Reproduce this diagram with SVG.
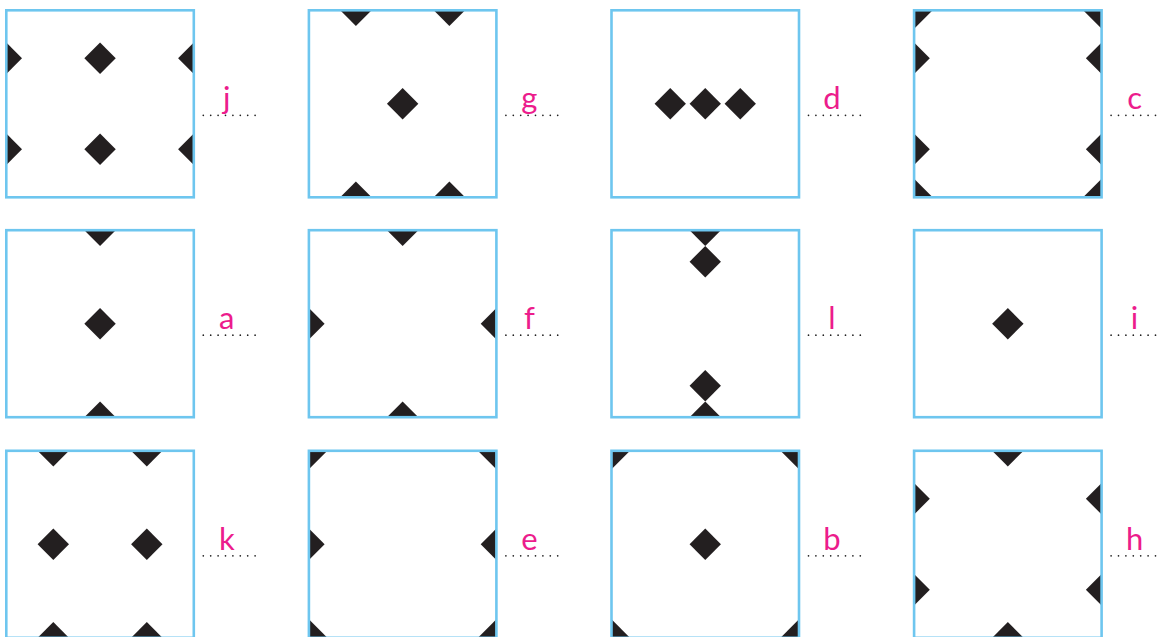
<svg xmlns="http://www.w3.org/2000/svg" xmlns:xlink="http://www.w3.org/1999/xlink" width="1160" height="637" viewBox="0 0 1160 637">
<style>
.frame{fill:none;stroke:#6ec6ef;stroke-width:2.6}
.dm{fill:#231f20}
.lbl{font-family:Lato,"Open Sans","Liberation Sans",sans-serif;font-weight:400;font-size:31px;fill:#ec1c8c;text-anchor:middle}
.dots{stroke:#222;stroke-width:1.7;stroke-linecap:round;stroke-dasharray:0 7.4;fill:none}
</style>
<defs>
<path id="dm" class="dm" d="M0,-15.7 L15.7,0 L0,15.7 L-15.7,0Z"/>
<path id="cn" class="dm" d="M0,-18.5 L18.5,0 L0,18.5 L-18.5,0Z"/>
<clipPath id="box"><rect x="0" y="0" width="187.5" height="187"/></clipPath>
</defs>

<g id="box-j" transform="translate(6.3,10.3)">
<g clip-path="url(#box)">
<use xlink:href="#dm" x="0" y="48"/><use xlink:href="#dm" x="0" y="139"/>
<use xlink:href="#dm" x="187.5" y="48"/><use xlink:href="#dm" x="187.5" y="139"/>
<use xlink:href="#dm" x="93.75" y="48"/><use xlink:href="#dm" x="93.75" y="139"/>
</g>
<rect class="frame" x="0" y="0" width="187.5" height="187"/>
<line class="dots" x1="197" y1="105" x2="254" y2="105"/>
<text class="lbl" x="220.5" y="99">j</text>
</g>

<g id="box-g" transform="translate(308.9,10.3)">
<g clip-path="url(#box)">
<use xlink:href="#dm" x="47" y="0"/><use xlink:href="#dm" x="140.5" y="0"/>
<use xlink:href="#dm" x="47" y="187"/><use xlink:href="#dm" x="140.5" y="187"/>
<use xlink:href="#dm" x="93.75" y="93.5"/>
</g>
<rect class="frame" x="0" y="0" width="187.5" height="187"/>
<line class="dots" x1="197" y1="105" x2="254" y2="105"/>
<text class="lbl" x="220.5" y="99">g</text>
</g>

<g id="box-d" transform="translate(611.5,10.3)">
<g clip-path="url(#box)">
<use xlink:href="#dm" x="58.75" y="93.5"/><use xlink:href="#dm" x="93.75" y="93.5"/><use xlink:href="#dm" x="128.75" y="93.5"/>
</g>
<rect class="frame" x="0" y="0" width="187.5" height="187"/>
<line class="dots" x1="197" y1="105" x2="254" y2="105"/>
<text class="lbl" x="220.5" y="99">d</text>
</g>

<g id="box-c" transform="translate(914.1,10.3)">
<g clip-path="url(#box)">
<use xlink:href="#cn" x="0" y="0"/><use xlink:href="#cn" x="187.5" y="0"/>
<use xlink:href="#cn" x="0" y="187"/><use xlink:href="#cn" x="187.5" y="187"/>
<use xlink:href="#dm" x="0" y="48"/><use xlink:href="#dm" x="0" y="139"/>
<use xlink:href="#dm" x="187.5" y="48"/><use xlink:href="#dm" x="187.5" y="139"/>
</g>
<rect class="frame" x="0" y="0" width="187.5" height="187"/>
<line class="dots" x1="197" y1="105" x2="254" y2="105"/>
<text class="lbl" x="220.5" y="99">c</text>
</g>

<g id="box-a" transform="translate(6.3,230.2)">
<g clip-path="url(#box)">
<use xlink:href="#dm" x="93.75" y="0"/><use xlink:href="#dm" x="93.75" y="93.5"/><use xlink:href="#dm" x="93.75" y="187"/>
</g>
<rect class="frame" x="0" y="0" width="187.5" height="187"/>
<line class="dots" x1="197" y1="105" x2="254" y2="105"/>
<text class="lbl" x="220.5" y="99">a</text>
</g>

<g id="box-f" transform="translate(308.9,230.2)">
<g clip-path="url(#box)">
<use xlink:href="#dm" x="93.75" y="0"/><use xlink:href="#dm" x="93.75" y="187"/>
<use xlink:href="#dm" x="0" y="93.5"/><use xlink:href="#dm" x="187.5" y="93.5"/>
</g>
<rect class="frame" x="0" y="0" width="187.5" height="187"/>
<line class="dots" x1="197" y1="105" x2="254" y2="105"/>
<text class="lbl" x="220.5" y="99">f</text>
</g>

<g id="box-l" transform="translate(611.5,230.2)">
<g clip-path="url(#box)">
<use xlink:href="#dm" x="93.75" y="0"/><use xlink:href="#dm" x="93.75" y="31.5"/>
<use xlink:href="#dm" x="93.75" y="155.5"/><use xlink:href="#dm" x="93.75" y="187"/>
</g>
<rect class="frame" x="0" y="0" width="187.5" height="187"/>
<line class="dots" x1="197" y1="105" x2="254" y2="105"/>
<text class="lbl" x="220.5" y="99">l</text>
</g>

<g id="box-i" transform="translate(914.1,230.2)">
<g clip-path="url(#box)">
<use xlink:href="#dm" x="93.75" y="93.5"/>
</g>
<rect class="frame" x="0" y="0" width="187.5" height="187"/>
<line class="dots" x1="197" y1="105" x2="254" y2="105"/>
<text class="lbl" x="220.5" y="99">i</text>
</g>

<g id="box-k" transform="translate(6.3,450.8)">
<g clip-path="url(#box)">
<use xlink:href="#dm" x="47" y="0"/><use xlink:href="#dm" x="140.5" y="0"/>
<use xlink:href="#dm" x="47" y="93.5"/><use xlink:href="#dm" x="140.5" y="93.5"/>
<use xlink:href="#dm" x="47" y="187"/><use xlink:href="#dm" x="140.5" y="187"/>
</g>
<rect class="frame" x="0" y="0" width="187.5" height="187"/>
<line class="dots" x1="197" y1="105" x2="254" y2="105"/>
<text class="lbl" x="220.5" y="99">k</text>
</g>

<g id="box-e" transform="translate(308.9,450.8)">
<g clip-path="url(#box)">
<use xlink:href="#cn" x="0" y="0"/><use xlink:href="#cn" x="187.5" y="0"/>
<use xlink:href="#cn" x="0" y="187"/><use xlink:href="#cn" x="187.5" y="187"/>
<use xlink:href="#dm" x="0" y="93.5"/><use xlink:href="#dm" x="187.5" y="93.5"/>
</g>
<rect class="frame" x="0" y="0" width="187.5" height="187"/>
<line class="dots" x1="197" y1="105" x2="254" y2="105"/>
<text class="lbl" x="220.5" y="99">e</text>
</g>

<g id="box-b" transform="translate(611.5,450.8)">
<g clip-path="url(#box)">
<use xlink:href="#cn" x="0" y="0"/><use xlink:href="#cn" x="187.5" y="0"/>
<use xlink:href="#cn" x="0" y="187"/><use xlink:href="#cn" x="187.5" y="187"/>
<use xlink:href="#dm" x="93.75" y="93.5"/>
</g>
<rect class="frame" x="0" y="0" width="187.5" height="187"/>
<line class="dots" x1="197" y1="105" x2="254" y2="105"/>
<text class="lbl" x="220.5" y="99">b</text>
</g>

<g id="box-h" transform="translate(914.1,450.8)">
<g clip-path="url(#box)">
<use xlink:href="#dm" x="93.75" y="0"/><use xlink:href="#dm" x="93.75" y="187"/>
<use xlink:href="#dm" x="0" y="48"/><use xlink:href="#dm" x="0" y="139"/>
<use xlink:href="#dm" x="187.5" y="48"/><use xlink:href="#dm" x="187.5" y="139"/>
</g>
<rect class="frame" x="0" y="0" width="187.5" height="187"/>
<line class="dots" x1="197" y1="105" x2="254" y2="105"/>
<text class="lbl" x="220.5" y="99">h</text>
</g>

<g id="connectors"></g>
</svg>
